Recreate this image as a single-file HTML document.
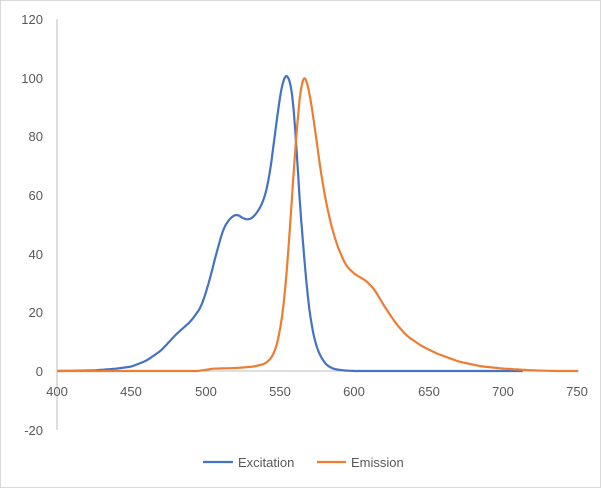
<!DOCTYPE html>
<html><head><style>
body{margin:0;background:#fff}
svg{display:block;font-family:"Liberation Sans",sans-serif}
</style></head><body>
<svg width="601" height="488" viewBox="0 0 601 488">
<rect x="0.5" y="0.5" width="600" height="487" fill="#fff" stroke="#d9d9d9"/>
<line x1="57" y1="19" x2="57" y2="430" stroke="#bfbfbf" stroke-width="1"/>
<line x1="57" y1="371" x2="579" y2="371" stroke="#bfbfbf" stroke-width="1"/>
<g fill="#595959" font-size="13" text-anchor="end">
<text x="43" y="24">120</text><text x="43" y="83">100</text><text x="43" y="141">80</text>
<text x="43" y="200">60</text><text x="43" y="259">40</text><text x="43" y="317">20</text>
<text x="43" y="376">0</text><text x="43" y="435">-20</text>
</g>
<g fill="#595959" font-size="13" text-anchor="middle">
<text x="57" y="396">400</text><text x="131" y="396">450</text><text x="206" y="396">500</text>
<text x="280" y="396">550</text><text x="354" y="396">600</text><text x="429" y="396">650</text>
<text x="503" y="396">700</text><text x="577" y="396">750</text>
</g>
<path id="ex" fill="none" stroke="#4472c4" stroke-width="2.2" stroke-linejoin="round"/>
<path id="em" fill="none" stroke="#ed7d31" stroke-width="2.2" stroke-linejoin="round"/>
<line x1="203" y1="462" x2="233" y2="462" stroke="#4472c4" stroke-width="2.2"/>
<text x="238" y="467" font-size="13" fill="#595959">Excitation</text>
<line x1="317" y1="462" x2="346" y2="462" stroke="#ed7d31" stroke-width="2.2"/>
<text x="351" y="467" font-size="13" fill="#595959">Emission</text>
</svg>
<script>
function X(v){return 57+(v-400)*1.4886}
function Y(v){return 371-v*2.933}
function interp(pts,step,end){
 var xs=[],ys=[];var i=0;
 for(var x=pts[0][0];x<=end;x+=step){
  while(i<pts.length-2&&pts[i+1][0]<x)i++;
  var a=pts[i],b=pts[i+1];var t=(x-a[0])/(b[0]-a[0]);
  xs.push(x);ys.push(a[1]+(b[1]-a[1])*Math.max(0,Math.min(1,t)));
 }
 var w=4,d="";
 for(var k=0;k<xs.length;k++){
  var s=0,n=0;for(var j=k-w;j<=k+w;j++){if(j>=0&&j<ys.length){s+=ys[j];n++;}}
  d+=(d?"L":"M")+X(xs[k]).toFixed(1)+","+Y(s/n).toFixed(1);
 }
 return d;
}
var ex=[[400,0],[425,0.2],[440,0.8],[450,1.5],[460,3.5],[470,7],[480,12.5],[490,17],[497,22],[502,30],[507,40],[512,49],[517,52.5],[521,53.5],[525,52],[529,51.5],[533,53],[538,57],[542,64],[545,75],[549,91],[552,100],[554,101],[556,100.5],[558,95],[560,85],[562,65],[565,45],[568,27],[571,15],[575,7],[580,2.5],[585,0.8],[592,0.2],[600,0],[713,0]];
var em=[[400,0],[495,0],[505,0.8],[520,1],[532,1.5],[540,2.5],[545,5],[549,11],[553,25],[556,45],[559,68],[562,89],[565,101],[567,100.5],[570,94],[574,80],[578,65],[583,52],[588,43],[594,36],[600,33],[607,31],[613,28],[620,22],[628,16],[635,12],[645,8.5],[655,6],[670,3.2],[685,1.6],[700,0.8],[720,0.2],[735,0],[750,0]];
document.getElementById("ex").setAttribute("d",interp(ex,0.5,713));
document.getElementById("em").setAttribute("d",interp(em,0.5,750));
</script>
</body></html>
